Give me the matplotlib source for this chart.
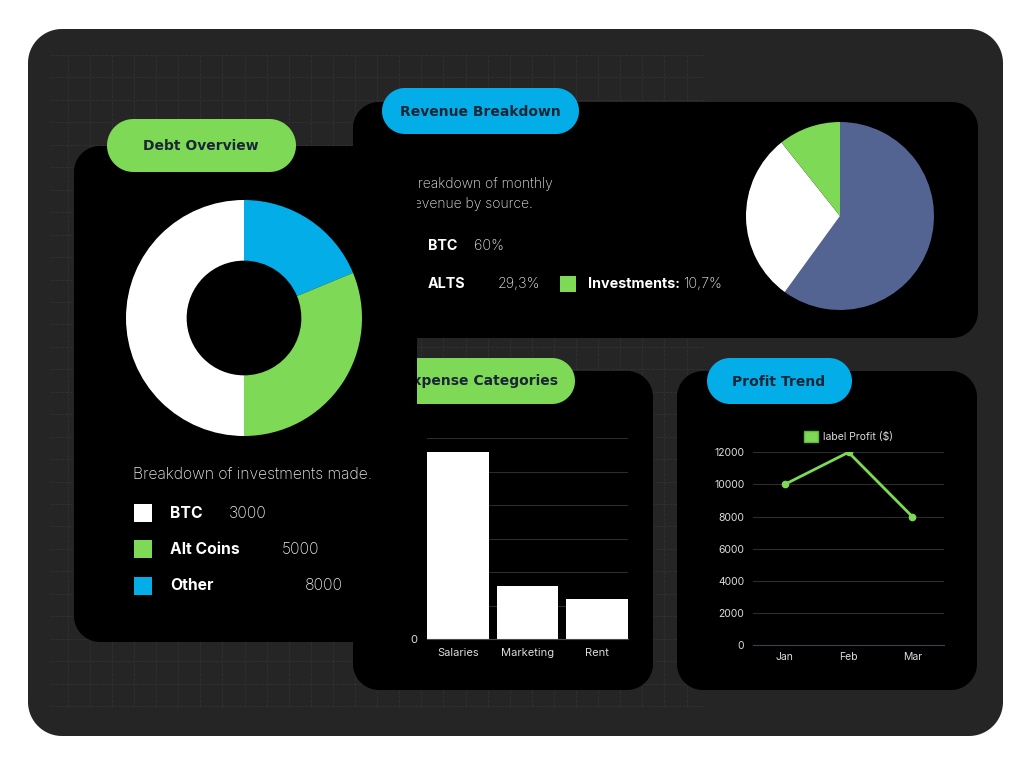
import numpy as np
import matplotlib.pyplot as plt
from matplotlib.patches import Polygon, Rectangle, Patch

W, H = 1024, 768

# chart data
debt_labels = ["BTC", "Alt Coins", "Other"]
debt_legend_values = ["3000", "5000", "8000"]
debt_legend_colors = ["#FFFFFF", "#7ED957", "#03AEE8"]
debt_slices = [3000, 5000, 8000]
debt_slice_colors = ["#03AEE8", "#7ED957", "#FFFFFF"]

rev_labels = ["BTC", "ALTS", "Investments:"]
rev_share_text = ["60%", "29,3%", "10,7%"]
rev_shares = [60, 29.3, 10.7]
rev_colors = ["#536493", "#FFFFFF", "#7ED957"]

expense_cats = ["Salaries", "Marketing", "Rent"]
expense_vals = [5600, 1600, 1200]

months = ["Jan", "Feb", "Mar"]
profit = [10000, 12000, 8000]

GREEN = "#7ED957"
BLUE = "#03AEE8"
PILL_TXT = "#1b2636"
TXT = "Inter"


def px_axes(fig, x0, y0, x1, y1, z):
    return fig.add_axes([x0 / W, 1 - y1 / H, (x1 - x0) / W, (y1 - y0) / H], zorder=z)


def canvas(fig, z):
    ax = fig.add_axes([0, 0, 1, 1], zorder=z)
    ax.set_xlim(0, W)
    ax.set_ylim(H, 0)
    ax.axis("off")
    ax.patch.set_alpha(0)
    return ax


def box(ax, x0, y0, x1, y1, r, color, z=1):
    # rounded rectangle with true circular corners (pixel coords, y down)
    r = min(r, (x1 - x0) / 2, (y1 - y0) / 2)
    pts = []
    corners = [(x1 - r, y0 + r, -90, 0), (x1 - r, y1 - r, 0, 90),
               (x0 + r, y1 - r, 90, 180), (x0 + r, y0 + r, 180, 270)]
    for cx, cy, a0, a1 in corners:
        t = np.radians(np.linspace(a0, a1, 24))
        pts += list(zip(cx + r * np.cos(t), cy + r * np.sin(t)))
    ax.add_patch(Polygon(pts, closed=True, fc=color, ec="none", zorder=z))


def pill(ax, x0, y0, x1, y1, color, label, tx, ha="center", z=3):
    box(ax, x0, y0, x1, y1, (y1 - y0) / 2, color, z)
    ax.text(tx, (y0 + y1) / 2 + 0.5, label, ha=ha, va="center", color=PILL_TXT,
            fontfamily="DejaVu Sans", fontweight="bold", fontsize=10, zorder=z + 1)


fig = plt.figure(figsize=(W / 100, H / 100), dpi=100, facecolor="white")

# ---- background layer ----
bg = canvas(fig, 0)
box(bg, 28, 29, 1003, 736, 34, "#252525", 0)
for gx in np.arange(67.7, 705, 22.1):
    bg.plot([gx, gx], [55, 707], color="#2f2f2f", lw=0.8, ls=(0, (3, 1)), zorder=0.5)
for gy in np.arange(55, 708, 22.45):
    bg.plot([51, 705], [gy, gy], color="#2f2f2f", lw=0.8, ls=(0, (3, 1)), zorder=0.5)

# revenue card
box(bg, 353, 102, 978, 338, 26, "#000000", 1)
pill(bg, 382, 88, 579, 134, BLUE, "Revenue Breakdown", 480)
bg.text(409, 194, "Breakdown of monthly\nrevenue by source.", ha="left", va="center",
        color="#e8e8e8", fontfamily=TXT, fontweight="light", fontsize=10, linespacing=1.6)
rev_rows = [(400, 246), (400, 284), (560, 284)]
rev_val_x = [474, 498, 683]
for i, (lab, val) in enumerate(zip(rev_labels, rev_share_text)):
    sx, sy = rev_rows[i]
    bg.add_patch(Rectangle((sx, sy - 8), 16, 16, fc=rev_colors[i], ec="none", zorder=2))
    bg.text(sx + 28, sy, lab, ha="left", va="center", color="white",
            fontfamily=TXT, fontweight="bold", fontsize=10.3, zorder=3)
    bg.text(rev_val_x[i], sy, val, ha="left", va="center", color="#e8e8e8",
            fontfamily=TXT, fontweight="light", fontsize=10.3, zorder=3)

# expense + profit cards
box(bg, 353, 371, 653, 690, 26, "#000000", 1)
pill(bg, 378, 358, 575, 404, GREEN, "Expense Categories", 558, ha="right")
box(bg, 677, 371, 977, 690, 26, "#000000", 1)
pill(bg, 707, 358, 852, 404, BLUE, "Profit Trend", 779)

# ---- revenue pie ----
ax_pie = px_axes(fig, 746, 122, 934, 310, 1)
ax_pie.pie(rev_shares, colors=rev_colors, startangle=90, counterclock=False,
           wedgeprops=dict(linewidth=0))
ax_pie.set_xlim(-1, 1)
ax_pie.set_ylim(-1, 1)
ax_pie.axis("off")

# ---- expense bar chart ----
ax_bar = px_axes(fig, 427, 438.3, 628, 639.3, 1)
ax_bar.patch.set_alpha(0)
ax_bar.bar(range(len(expense_cats)), expense_vals, width=0.89, color="white", zorder=2)
ax_bar.set_xlim(-0.45, 2.45)
ax_bar.set_ylim(0, 6000)
ax_bar.set_yticks(np.arange(0, 6001, 1000))
ax_bar.set_xticks(range(len(expense_cats)))
ax_bar.set_xticklabels(expense_cats)
ax_bar.grid(axis="y", color="#2c2c2c", lw=0.8, zorder=0)
for s in ["top", "right", "left"]:
    ax_bar.spines[s].set_visible(False)
ax_bar.spines["bottom"].set_color("#4a4a4a")
ax_bar.tick_params(length=0, colors="#dcdcdc", labelsize=8)
ax_bar.tick_params(axis="y", pad=7)
ax_bar.tick_params(axis="x", pad=6.5)
for t in ax_bar.get_xticklabels() + ax_bar.get_yticklabels():
    t.set_fontfamily(TXT)

# ---- profit line chart ----
ax_line = px_axes(fig, 752.7, 452.3, 944.3, 645.3, 1)
ax_line.patch.set_alpha(0)
ax_line.plot(range(len(months)), profit, color=GREEN, lw=2, marker="o", ms=4.5, zorder=3)
ax_line.set_xlim(-0.5, 2.5)
ax_line.set_ylim(0, 12000)
ax_line.set_yticks(np.arange(0, 12001, 2000))
ax_line.set_xticks(range(len(months)))
ax_line.set_xticklabels(months)
ax_line.grid(axis="y", color="#2c2c2c", lw=0.8, zorder=0)
for s in ["top", "right", "left"]:
    ax_line.spines[s].set_visible(False)
ax_line.spines["bottom"].set_color("#3b404a")
ax_line.tick_params(length=0, colors="#dcdcdc", labelsize=7.5)
ax_line.tick_params(axis="y", pad=6)
ax_line.tick_params(axis="x", pad=5)
for t in ax_line.get_xticklabels() + ax_line.get_yticklabels():
    t.set_fontfamily(TXT)
leg = ax_line.legend(handles=[Patch(facecolor=GREEN, edgecolor="#5fb83c", label="label Profit ($)")],
                     loc="lower center", bbox_to_anchor=(0.5, 1.0), frameon=False,
                     handlelength=1.35, handleheight=1.25, handletextpad=0.5,
                     borderaxespad=0.75, borderpad=0.2,
                     prop=dict(family=TXT, size=7.5))
for t in leg.get_texts():
    t.set_color("#dcdcdc")

# ---- debt overview layer (sits on top) ----
top = canvas(fig, 2)
box(top, 74, 146, 417, 642, 26, "#000000", 1)
pill(top, 107, 119, 296, 172, GREEN, "Debt Overview", 201)
top.text(133, 474, "Breakdown of investments made.", ha="left", va="center",
         color="#e8e8e8", fontfamily=TXT, fontweight="light", fontsize=11.3)
debt_rows = [513, 549, 586]
debt_val_x = [229, 282, 305]
for i, lab in enumerate(debt_labels):
    y = debt_rows[i]
    top.add_patch(Rectangle((134, y - 9), 18, 18, fc=debt_legend_colors[i], ec="none", zorder=2))
    top.text(170, y, lab, ha="left", va="center", color="white",
             fontfamily=TXT, fontweight="bold", fontsize=11.3, zorder=3)
    top.text(debt_val_x[i], y, debt_legend_values[i], ha="left", va="center", color="#ececec",
             fontfamily=TXT, fontweight="light", fontsize=11.3, zorder=3)

ax_donut = px_axes(fig, 126, 200, 362, 436, 3)
ax_donut.pie(debt_slices, colors=debt_slice_colors, startangle=90, counterclock=False,
             wedgeprops=dict(width=0.514, linewidth=0))
ax_donut.set_xlim(-1, 1)
ax_donut.set_ylim(-1, 1)
ax_donut.axis("off")

fig.savefig("out.png", dpi=100, facecolor="white")
